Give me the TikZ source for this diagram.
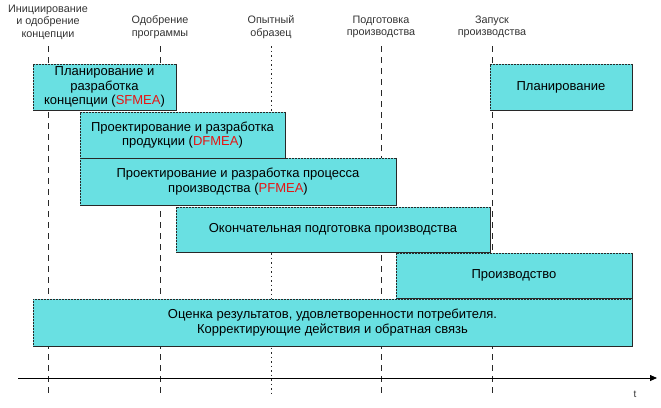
\documentclass[tikz,border=0pt]{standalone}
\usepackage{fontspec}
\setmainfont{Liberation Sans}
\usetikzlibrary{arrows.meta}
\definecolor{boxfill}{RGB}{105,224,226}
\definecolor{fmea}{RGB}{230,20,20}
\definecolor{edge}{RGB}{40,40,40}
\tikzset{
  phase/.style={fill=boxfill, draw=none, align=center, inner sep=2pt, font=\fontsize{13}{14.5}\selectfont},
  milestone/.style={align=center, font=\fontsize{10.8}{12.5}\selectfont, text=black!80, inner sep=0pt},
  vdash/.style={edge, line width=0.8pt, dash pattern=on 6pt off 5pt},
  vdot/.style={edge, line width=1pt, dash pattern=on 1.5pt off 3pt},
  axisline/.style={black, line width=0.8pt, -{Triangle[length=7pt,width=6pt]}}
}
\newcommand{\boxedges}[1]{%
  \draw[edge, line width=0.5pt, densely dotted] (#1.south west) |- (#1.north east);
  \draw[edge, line width=0.6pt] (#1.north east) |- (#1.south west);}
\begin{document}
\begin{tikzpicture}[x=1pt,y=-1pt]
\useasboundingbox (0,0) rectangle (661,407);
% milestone labels
\node[milestone] (m1) at (48,22) {Инициирование\\и одобрение\\концепции};
\node[milestone] (m2) at (160,27) {Одобрение\\программы};
\node[milestone] (m3) at (271,27) {Опытный\\образец};
\node[milestone] (m4) at (381,27) {Подготовка\\производства};
\node[milestone] (m5) at (492,27) {Запуск\\производства};
% vertical milestone lines
\foreach \i/\x in {1/48,2/160,4/381,5/492}{
  \coordinate (t\i) at (\x,46);
  \coordinate (b\i) at (\x,396);
  \draw[vdash] (t\i) -- (b\i);
}
\coordinate (t3) at (271,46);
\coordinate (b3) at (271,396);
\draw[vdot] (t3) -- (b3);
% phase boxes
\node[phase, minimum width=143pt, minimum height=46pt] (p1) at (104.5,87)
  {Планирование и\\разработка\\концепции (\textcolor{fmea}{SFMEA})};
\node[phase, minimum width=142pt, minimum height=46pt] (p7) at (561,87) {Планирование};
\node[phase, minimum width=205pt, minimum height=46pt] (p2) at (182.5,135)
  {Проектирование и разработка\\продукции (\textcolor{fmea}{DFMEA})};
\node[phase, minimum width=316pt, minimum height=47pt] (p3) at (238,181.5)
  {Проектирование и разработка процесса\\производства (\textcolor{fmea}{PFMEA})};
\node[phase, minimum width=314pt, minimum height=45pt] (p4) at (333,229.5)
  {Окончательная подготовка производства};
\node[phase, minimum width=236pt, minimum height=45pt] (p5) at (514,275.5) {Производство};
\node[phase, minimum width=599pt, minimum height=47pt] (p6) at (332.5,322.5)
  {Оценка результатов, удовлетворенности потребителя.\\Корректирующие действия и обратная связь};
\foreach \n in {p1,p2,p3,p4,p5,p6,p7}{\boxedges{\n}}
% time axis
\coordinate (a0) at (18,378);
\coordinate (a1) at (657,378);
\draw[axisline] (a0) -- (a1);
\node[font=\fontsize{10}{11}\selectfont, text=black!80] (tl) at (635,394) {t};
\end{tikzpicture}
\end{document}
